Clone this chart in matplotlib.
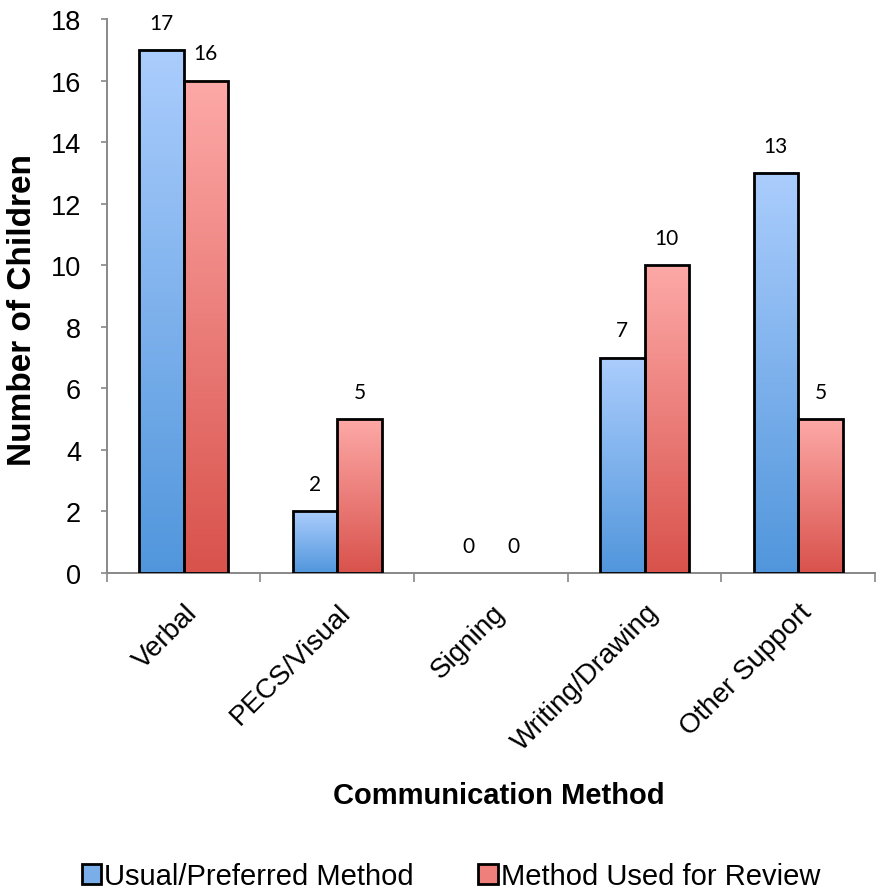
import numpy as np
import matplotlib
matplotlib.use("Agg")
import matplotlib.pyplot as plt
from matplotlib.colors import LinearSegmentedColormap
from matplotlib.patches import Rectangle
from matplotlib.transforms import ScaledTranslation

plt.rcParams['font.family'] = ['Liberation Sans', 'DejaVu Sans']

categories = ["Verbal", "PECS/Visual", "Signing", "Writing/Drawing", "Other Support"]
usual = [17, 2, 0, 7, 13]
review = [16, 5, 0, 10, 5]
series_names = ["Usual/Preferred Method", "Method Used for Review"]

blue_grad = LinearSegmentedColormap.from_list("b", ["#5196dc", "#abcdfd"])
red_grad = LinearSegmentedColormap.from_list("r", ["#d9524c", "#fda9a7"])

W, H = 884, 895
fig = plt.figure(figsize=(W / 100, H / 100), dpi=100)
ax = fig.add_axes([106.7 / W, 1 - 574 / H, 768.3 / W, 554 / H])

width = 0.29
x = np.arange(len(categories))
grad = np.linspace(0, 1, 256).reshape(-1, 1)

for vals, cmap, off in [(usual, blue_grad, -width / 2), (review, red_grad, width / 2)]:
    for xi, v in zip(x, vals):
        x0 = xi + off - width / 2
        if v > 0:
            ax.imshow(grad, cmap=cmap, origin='lower', aspect='auto',
                      extent=[x0, x0 + width, 0, v], zorder=2)
            ax.add_patch(Rectangle((x0, 0), width, v, facecolor='none',
                                   edgecolor='black', linewidth=2, zorder=3))
        ax.text(xi + off, v + 0.88, str(v), ha='center', va='center',
                fontsize=15, family=['Lato', 'DejaVu Sans'], zorder=4)

ax.set_xlim(-0.5, 4.384)
ax.set_ylim(0, 18)
ax.set_yticks(range(0, 19, 2))
ax.tick_params(axis='y', labelsize=19.5, direction='out', length=4.5, width=1.2,
               color='#888888', pad=14)

# category boundaries as downward ticks, labels placed separately
ax.set_xticks(np.arange(-0.5, len(categories), 1.0))
ax.set_xticklabels([])
ax.tick_params(axis='x', length=6.5, width=1.2, color='#888888')

label_shift = ScaledTranslation(10 / 100, -35 / 100, fig.dpi_scale_trans)
for xi, name in zip(x, categories):
    ax.text(xi, 0, name, transform=ax.transData + label_shift, rotation=45,
            ha='right', va='center', rotation_mode='anchor', fontsize=20,
            clip_on=False)

for s in ['top', 'right']:
    ax.spines[s].set_visible(False)
for s in ['left', 'bottom']:
    ax.spines[s].set_color('#888888')
    ax.spines[s].set_linewidth(1.4)

fig.text(23 / W, 1 - 310 / H, "Number of Children", rotation=90, ha='center',
         va='center', fontsize=24, fontweight='bold')
fig.text(499 / W, 1 - 804 / H, "Communication Method", ha='center',
         va='baseline', fontsize=21, fontweight='bold')

handles = [Rectangle((0, 0), 1, 1, facecolor='#7aaee8', edgecolor='black', linewidth=2),
           Rectangle((0, 0), 1, 1, facecolor='#ee7f7a', edgecolor='black', linewidth=2)]
fig.legend(handles, series_names, loc='center', bbox_to_anchor=(451 / W, 1 - 877 / H),
           ncol=2, frameon=False, fontsize=21, handlelength=0.68, handleheight=0.68,
           handletextpad=0.1, columnspacing=2.2, borderpad=0)

fig.savefig("out.png", dpi=100)
